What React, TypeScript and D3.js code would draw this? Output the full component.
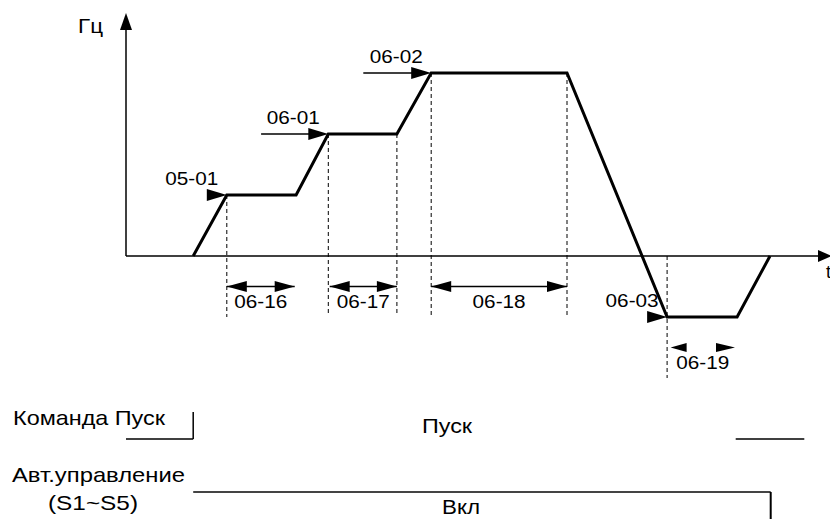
import React from "react";
import * as d3 from "d3";

// ---- data (time units, frequency in Hz) ----
const profileTime = [9.6, 14.4, 24.3, 28.9, 38.7, 43.6, 63.0, 77.3, 87.3, 92.0];
const profileFreq = [0, 20, 20, 40, 40, 60, 60, -20, -20, 0];

// level markers
const levelLabels = ["05-01", "06-01", "06-02", "06-03"];
const levelTimes = [14.4, 28.9, 43.6, 77.3];
const levelFreqs = [20, 40, 60, -20];
const levelTails = [0, 9.6, 9.7, 0];

// dashed guide lines: time, top freq, bottom freq
const guideTimes = [14.4, 28.9, 38.7, 43.6, 63.0, 77.3];
const guideTop = [20, 40, 40, 60, 60, 0];
const guideBottom = [-20, -19.5, -19.5, -20, -20, -40];

// dimension (duration) arrows
const dimLabels = ["06-16", "06-17", "06-18", "06-19"];
const dimStart = [14.4, 29.1, 43.6, 77.8];
const dimEnd = [24.1, 38.7, 63.0, 87.0];
const dimFreq = [-10, -10, -10, -30];
const dimHasLine = [true, true, true, false];

// digital signals
const runCmdEdges = [0, 9.6, 87.1, 96.9];
const autoEdges = [9.6, 92.1];

const W = 830;
const H = 519;

const x = d3.scaleLinear().domain([0, 100]).range([126, 826]);
const y = d3.scaleLinear().domain([-20, 60]).range([317, 73]);

const FONT = "'Liberation Sans', Arial, Helvetica, sans-serif";

function Arrowhead({ tx, ty, dir, len = 20, half = 6 }: { tx: number; ty: number; dir: "l" | "r" | "u"; len?: number; half?: number }) {
  let pts: [number, number][];
  if (dir === "r") pts = [[tx, ty], [tx - len, ty - half], [tx - len, ty + half]];
  else if (dir === "l") pts = [[tx, ty], [tx + len, ty - half], [tx + len, ty + half]];
  else pts = [[tx, ty], [tx - half, ty + len], [tx + half, ty + len]];
  return <polygon points={pts.map((p) => p.join(",")).join(" ")} fill="#000" />;
}

export default function App() {
  const line = d3
    .line<number>()
    .x((_, i) => x(profileTime[i]))
    .y((d) => y(d));
  const path = line(profileFreq) || "";
  const axisY = y(0);
  const topFreq = 79.7;

  const runLow = 439;
  const runHigh = 412;
  const autoY = 492;

  return (
    <svg width={W} height={H} style={{ position: "absolute", left: 0, top: 0, background: "#fff" }} fontFamily={FONT}>
      <rect width={W} height={H} fill="#fff" />
      {/* axes */}
      <line x1={x(0)} y1={axisY} x2={x(0)} y2={y(topFreq) + 10} stroke="#000" strokeWidth={1.5} />
      <Arrowhead tx={x(0)} ty={y(topFreq)} dir="u" len={17} half={6} />
      <line x1={x(0)} y1={axisY} x2={x(100) - 8} y2={axisY} stroke="#000" strokeWidth={1.5} />
      <Arrowhead tx={x(100) + 6} ty={axisY} dir="r" len={14} half={6} />
      <text x={78} y={33} fontSize={20} textLength={25} lengthAdjust="spacingAndGlyphs">Гц</text>
      <text x={826} y={278} fontSize={18}>t</text>

      {/* dashed guides */}
      {guideTimes.map((t, i) => (
        <line key={"g" + i} x1={x(t)} x2={x(t)} y1={y(guideTop[i])} y2={y(guideBottom[i])} stroke="#000" strokeWidth={1} strokeDasharray="4,3" />
      ))}

      {/* profile */}
      <path d={path} fill="none" stroke="#000" strokeWidth={3} strokeLinejoin="miter" />

      {/* level markers */}
      {levelLabels.map((lab, i) => {
        const tx = x(levelTimes[i]);
        const ty = y(levelFreqs[i]);
        return (
          <g key={"l" + i}>
            {levelTails[i] > 0 && (
              <line x1={tx - levelTails[i] * 7} x2={tx - 10} y1={ty} y2={ty} stroke="#000" strokeWidth={1.5} />
            )}
            <Arrowhead tx={tx} ty={ty} dir="r" len={20} half={6} />
            <text x={tx - 35} y={ty - 10} fontSize={18} textAnchor="middle" textLength={53} lengthAdjust="spacingAndGlyphs">
              {lab}
            </text>
          </g>
        );
      })}

      {/* dimension arrows */}
      {dimLabels.map((lab, i) => {
        const x1 = x(dimStart[i]);
        const x2 = x(dimEnd[i]);
        const yy = y(dimFreq[i]);
        const small = !dimHasLine[i];
        return (
          <g key={"d" + i}>
            {dimHasLine[i] && <line x1={x1} x2={x2} y1={yy} y2={yy} stroke="#000" strokeWidth={1.5} />}
            <Arrowhead tx={x1} ty={yy} dir="l" len={small ? 16 : 20} half={small ? 4.5 : 5.5} />
            <Arrowhead tx={x2} ty={yy} dir="r" len={small ? 19 : 20} half={small ? 4.5 : 5.5} />
            <text x={(x1 + x2) / 2} y={yy + 21} fontSize={18} textAnchor="middle" textLength={53} lengthAdjust="spacingAndGlyphs">
              {lab}
            </text>
          </g>
        );
      })}

      {/* run command signal */}
      <text x={13} y={425} fontSize={21} textLength={152} lengthAdjust="spacingAndGlyphs">Команда Пуск</text>
      <line x1={x(runCmdEdges[0])} x2={x(runCmdEdges[1])} y1={runLow} y2={runLow} stroke="#000" strokeWidth={1.5} />
      <line x1={x(runCmdEdges[1])} x2={x(runCmdEdges[1])} y1={runHigh} y2={runLow} stroke="#000" strokeWidth={1.5} />
      <line x1={x(runCmdEdges[2])} x2={x(runCmdEdges[3])} y1={runLow} y2={runLow} stroke="#000" strokeWidth={1.5} />
      <text x={447} y={433} fontSize={21} textAnchor="middle" textLength={50} lengthAdjust="spacingAndGlyphs">Пуск</text>

      {/* auto control signal */}
      <text x={12} y={482} fontSize={21} textLength={173} lengthAdjust="spacingAndGlyphs">Авт.управление</text>
      <text x={48} y={510} fontSize={21} textLength={90} lengthAdjust="spacingAndGlyphs">(S1~S5)</text>
      <line x1={x(autoEdges[0])} x2={x(autoEdges[1])} y1={autoY} y2={autoY} stroke="#444" strokeWidth={2} />
      <line x1={x(autoEdges[1])} x2={x(autoEdges[1])} y1={autoY} y2={H} stroke="#000" strokeWidth={2} />
      <text x={461} y={514} fontSize={20} textAnchor="middle" textLength={38} lengthAdjust="spacingAndGlyphs">Вкл</text>
    </svg>
  );
}
